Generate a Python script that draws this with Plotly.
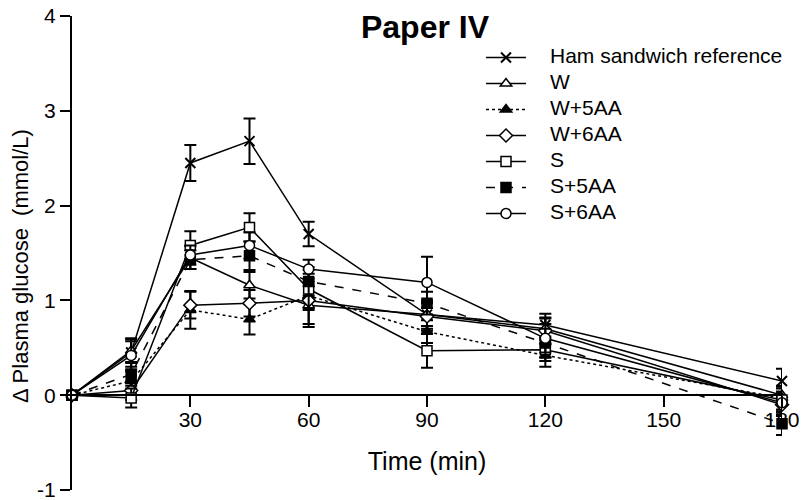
import plotly.graph_objects as go

# ---------------- data ----------------
times = [0, 15, 30, 45, 60, 90, 120, 180]

names = ["Ham sandwich reference", "W", "W+5AA", "W+6AA", "S", "S+5AA", "S+6AA"]

ham = [0, 0.45, 2.45, 2.68, 1.70, 0.85, 0.74, 0.15]
ham_err = [0, 0.15, 0.19, 0.24, 0.13, 0.12, 0.12, 0.13]

w = [0, 0.47, 1.45, 1.16, 0.95, 0.85, 0.70, 0.00]
w_err = [0, 0.12, 0.12, 0.14, 0.20, 0.15, 0.12, 0.10]

w5 = [0, 0.15, 0.90, 0.80, 1.05, 0.67, 0.42, -0.03]
w5_err = [0, 0.10, 0.20, 0.16, 0.15, 0.12, 0.12, 0.12]

w6 = [0, 0.05, 0.95, 0.97, 1.00, 0.83, 0.68, -0.10]
w6_err = [0, 0.10, 0.14, 0.14, 0.28, 0.15, 0.13, 0.12]

s = [0, -0.03, 1.58, 1.77, 1.12, 0.47, 0.48, -0.05]
s_err = [0, 0.10, 0.15, 0.15, 0.20, 0.18, 0.12, 0.12]

s5 = [0, 0.22, 1.43, 1.47, 1.20, 0.97, 0.55, -0.30]
s5_err = [0, 0.12, 0.10, 0.15, 0.15, 0.12, 0.15, 0.12]

s6 = [0, 0.42, 1.48, 1.58, 1.33, 1.19, 0.60, -0.08]
s6_err = [0, 0.15, 0.10, 0.14, 0.10, 0.27, 0.15, 0.12]

x_ticks = [30, 60, 90, 120, 150, 180]
y_ticks = [-1, 0, 1, 2, 3, 4]
y_tick_labels = ["-1", "0", "1", "2", "3", "4"]

# ---------------- styles ----------------
series = [
    (ham, ham_err, "x-thin", "black", "solid"),
    (w, w_err, "triangle-up", "white", "solid"),
    (w5, w5_err, "triangle-up", "black", "dot"),
    (w6, w6_err, "diamond", "white", "solid"),
    (s, s_err, "square", "white", "solid"),
    (s5, s5_err, "square", "black", "dash"),
    (s6, s6_err, "circle", "white", "solid"),
]

FONT = "Arial, 'Liberation Sans', sans-serif"
W_PX, H_PX = 804, 500
L, R, T, B = 72, 22, 16, 10
plot_w = W_PX - L - R
plot_h = H_PX - T - B

LEG_X = 481          # px, left of legend box
LEG_TOP = 43         # px, top of legend box
LEG_TEXT_X = 548     # px
LEG_ROW0 = 55        # px, centre of first legend row
LEG_STEP = 26        # px between rows

fig = go.Figure()
for i, (vals, errs, sym, fill, dash) in enumerate(series):
    fig.add_trace(go.Scatter(
        x=times, y=vals, name=" ", mode="lines+markers",
        legendgroup=f"g{i}",
        hovertemplate=names[i] + "<br>%{x} min: %{y}<extra></extra>",
        cliponaxis=False,
        line=dict(color="black", width=1.5, dash=dash),
        marker=dict(symbol=sym, size=10, color=fill,
                    line=dict(color="black", width=2 if sym == "x-thin" else 1.5)),
        error_y=dict(type="data", array=errs, visible=True, color="black",
                     thickness=2, width=6),
    ))

annotations = [dict(text="Δ Plasma glucose  (mmol/L)", textangle=-90,
                    xref="paper", yref="paper",
                    x=(20 - L) / plot_w, y=(H_PX - B - 266) / plot_h,
                    xanchor="center", yanchor="middle", showarrow=False,
                    font=dict(size=22, family=FONT))]
for i, nm in enumerate(names):
    annotations.append(dict(
        text=nm, xref="paper", yref="paper",
        x=(LEG_TEXT_X - L) / plot_w,
        y=(H_PX - B - (LEG_ROW0 + LEG_STEP * i)) / plot_h,
        xanchor="left", yanchor="middle", showarrow=False,
        font=dict(size=21, family=FONT)))

fig.update_layout(
    width=W_PX, height=H_PX,
    margin=dict(l=L, r=R, t=T, b=B, autoexpand=False),
    paper_bgcolor="white", plot_bgcolor="white",
    font=dict(family=FONT, size=21, color="black"),
    title=dict(text="<b>Paper IV</b>", x=425 / W_PX, xanchor="center",
               y=1 - 27 / H_PX, yanchor="middle", xref="container", yref="container",
               font=dict(size=32, family=FONT, color="black")),
    showlegend=True,
    legend=dict(xref="container", yref="container", x=LEG_X / W_PX, y=1 - LEG_TOP / H_PX,
                xanchor="left", yanchor="top", bgcolor="rgba(0,0,0,0)",
                font=dict(size=10, family=FONT), tracegroupgap=7,
                itemwidth=40),
    xaxis=dict(range=[0, 180], tickvals=x_ticks, ticks="outside", ticklen=11,
               tickwidth=2, tickcolor="black", showline=True, linecolor="black",
               linewidth=2, showgrid=False, zeroline=False,
               anchor="free", position=0.2, ticklabelstandoff=-5,
               ticklabeloverflow="allow",
               title=dict(text="Time (min)", standoff=21),
               tickfont=dict(size=21)),
    yaxis=dict(range=[-1, 4], tickvals=y_ticks, ticktext=y_tick_labels,
               ticks="outside", ticklen=10,
               tickwidth=2, tickcolor="black", showline=True, linecolor="black",
               linewidth=2, showgrid=False, zeroline=False,
               ticklabeloverflow="allow",
               tickfont=dict(size=21)),
    annotations=annotations,
)

fig.write_html("out.html", config={"displayModeBar": False},
               post_script="document.body.style.margin='0';document.body.style.overflow='hidden';")
